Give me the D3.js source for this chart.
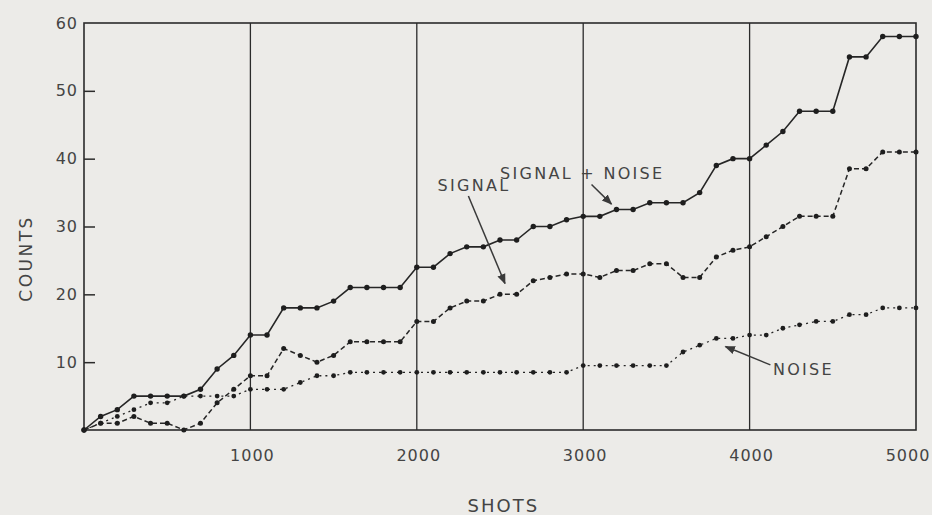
<!DOCTYPE html>
<html lang="en">
<head>
    <meta charset="UTF-8">
    <title>Counts vs shots</title>
    <script src="https://d3js.org/d3.v7.min.js"></script>
    <style>
        body { margin: 0; background: #ecebe8; }
        svg text { font-family: "DejaVu Sans", sans-serif; fill: #444; }
        .frame { stroke: #2b2b2b; stroke-width: 1.6; fill: none; }
        .grid { stroke: #2b2b2b; stroke-width: 1.3; }
        .dot { fill: #1e1e1e; }
    </style>
</head>
<body>
<div id="chart"></div>
<script>

    // shots, one reading every 100
    var shots = [0, 100, 200, 300, 400, 500, 600, 700, 800, 900,
        1000, 1100, 1200, 1300, 1400, 1500, 1600, 1700, 1800, 1900,
        2000, 2100, 2200, 2300, 2400, 2500, 2600, 2700, 2800, 2900,
        3000, 3100, 3200, 3300, 3400, 3500, 3600, 3700, 3800, 3900,
        4000, 4100, 4200, 4300, 4400, 4500, 4600, 4700, 4800, 4900, 5000];

    var signalNoise = [0, 2, 3, 5, 5, 5, 5, 6, 9, 11,
        14, 14, 18, 18, 18, 19, 21, 21, 21, 21,
        24, 24, 26, 27, 27, 28, 28, 30, 30, 31,
        31.5, 31.5, 32.5, 32.5, 33.5, 33.5, 33.5, 35, 39, 40,
        40, 42, 44, 47, 47, 47, 55, 55, 58, 58, 58];

    var signal = [0, 1, 1, 2, 1, 1, 0, 1, 4, 6,
        8, 8, 12, 11, 10, 11, 13, 13, 13, 13,
        16, 16, 18, 19, 19, 20, 20, 22, 22.5, 23,
        23, 22.5, 23.5, 23.5, 24.5, 24.5, 22.5, 22.5, 25.5, 26.5,
        27, 28.5, 30, 31.5, 31.5, 31.5, 38.5, 38.5, 41, 41, 41];

    var noise = [0, 1, 2, 3, 4, 4, 5, 5, 5, 5,
        6, 6, 6, 7, 8, 8, 8.5, 8.5, 8.5, 8.5,
        8.5, 8.5, 8.5, 8.5, 8.5, 8.5, 8.5, 8.5, 8.5, 8.5,
        9.5, 9.5, 9.5, 9.5, 9.5, 9.5, 11.5, 12.5, 13.5, 13.5,
        14, 14, 15, 15.5, 16, 16, 17, 17, 18, 18, 18];

    var xTicks = [1000, 2000, 3000, 4000, 5000];
    var yTicks = [10, 20, 30, 40, 50, 60];

    // label text, label position, arrow start, arrow end (in data units)
    var labels = ["SIGNAL + NOISE", "SIGNAL", "NOISE"];
    var labelAt = [[2500, 37], [2125, 35.2], [4140, 8.1]];
    var arrowFrom = [[3050, 36.2], [2310, 34.5], [4125, 9.6]];
    var arrowTo = [[3170, 33.3], [2530, 21.6], [3855, 12.3]];

    var margin = {top: 23, right: 16, bottom: 85, left: 84},
        width = 932 - margin.left - margin.right,
        height = 515 - margin.top - margin.bottom;

    var svg = d3.select("#chart")
        .append("svg")
        .attr("width", 932)
        .attr("height", 515);

    var defs = svg.append("defs");
    defs.append("marker")
        .attr("id", "head")
        .attr("viewBox", "0 0 10 10")
        .attr("refX", 9)
        .attr("refY", 5)
        .attr("markerWidth", 7)
        .attr("markerHeight", 7)
        .attr("orient", "auto")
        .append("path")
        .attr("d", "M0,1 L10,5 L0,9 Z")
        .attr("fill", "#3a3a3a");

    var g = svg.append("g")
        .attr("transform", "translate(" + margin.left + "," + margin.top + ")");

    var x = d3.scaleLinear()
        .domain([0, 5000])
        .range([0, width]);

    var y = d3.scaleLinear()
        .domain([0, 60])
        .range([height, 0]);

    // vertical grid lines
    g.append("g")
        .selectAll("line")
        .data(xTicks.slice(0, 4))
        .enter()
        .append("line")
        .attr("class", "grid")
        .attr("x1", function (d) { return x(d); })
        .attr("x2", function (d) { return x(d); })
        .attr("y1", 0)
        .attr("y2", height);

    g.append("rect")
        .attr("class", "frame")
        .attr("x", 0)
        .attr("y", 0)
        .attr("width", width)
        .attr("height", height);

    // y axis: short ticks pointing inward
    var yAxis = g.append("g")
        .call(d3.axisRight(y).tickValues(yTicks.slice(0, 5)).tickSize(11).tickFormat(""));
    yAxis.select(".domain").remove();
    yAxis.selectAll("line").attr("stroke", "#2b2b2b").attr("stroke-width", 1.5);

    g.append("g")
        .selectAll("text")
        .data(yTicks)
        .enter()
        .append("text")
        .attr("x", -6)
        .attr("y", function (d) { return y(d); })
        .attr("dy", "0.35em")
        .attr("text-anchor", "end")
        .style("font-size", "16px")
        .style("letter-spacing", "1px")
        .text(function (d) { return d; });

    g.append("g")
        .selectAll("text")
        .data(xTicks)
        .enter()
        .append("text")
        .attr("x", function (d) { return x(d) + (d === 5000 ? -8 : 2); })
        .attr("y", height + 31)
        .attr("text-anchor", "middle")
        .style("font-size", "16px")
        .style("letter-spacing", "1px")
        .text(function (d) { return d; });

    svg.append("text")
        .attr("x", margin.left + x(2520))
        .attr("y", 512)
        .attr("text-anchor", "middle")
        .style("font-size", "18px")
        .style("letter-spacing", "2px")
        .text("SHOTS");

    svg.append("text")
        .attr("transform", "translate(32," + (margin.top + y(25.3)) + ") rotate(-90)")
        .attr("text-anchor", "middle")
        .style("font-size", "17px")
        .style("letter-spacing", "2.5px")
        .text("COUNTS");

    var series = [
        {values: signalNoise, dash: null, width: 1.6, r: 2.7},
        {values: signal, dash: "5,3", width: 1.5, r: 2.5},
        {values: noise, dash: "2,4", width: 1.3, r: 2.4}
    ];

    series.forEach(function (s) {
        var pts = shots.map(function (d, i) { return [d, s.values[i]]; });
        var line = d3.line()
            .x(function (d) { return x(d[0]); })
            .y(function (d) { return y(d[1]); });

        g.append("path")
            .datum(pts)
            .attr("d", line)
            .attr("fill", "none")
            .attr("stroke", "#262626")
            .attr("stroke-width", s.width)
            .attr("stroke-dasharray", s.dash);

        g.append("g")
            .selectAll("circle")
            .data(pts)
            .enter()
            .append("circle")
            .attr("class", "dot")
            .attr("cx", function (d) { return x(d[0]); })
            .attr("cy", function (d) { return y(d[1]); })
            .attr("r", s.r);
    });

    // annotations
    labels.forEach(function (t, i) {
        g.append("text")
            .attr("x", x(labelAt[i][0]))
            .attr("y", y(labelAt[i][1]))
            .style("font-size", "16px")
            .style("letter-spacing", "2.3px")
            .text(t);

        g.append("line")
            .attr("x1", x(arrowFrom[i][0]))
            .attr("y1", y(arrowFrom[i][1]))
            .attr("x2", x(arrowTo[i][0]))
            .attr("y2", y(arrowTo[i][1]))
            .attr("stroke", "#3a3a3a")
            .attr("stroke-width", 1.5)
            .attr("marker-end", "url(#head)");
    });

</script>
</body>
</html>
